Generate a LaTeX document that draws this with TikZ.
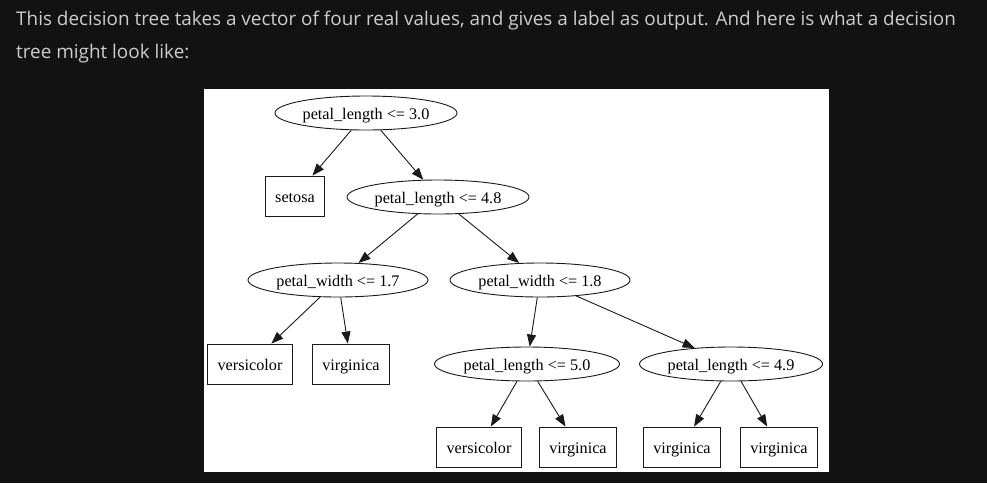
\documentclass[tikz,border=0pt]{standalone}
\usepackage{fontspec}
\setmainfont{Liberation Serif}
\newfontfamily\uifont{Open Sans}
\usepackage{tikz}
\usetikzlibrary{
	arrows.meta,
	shapes.geometric
}
\definecolor{PageBg}{HTML}{121212}
\definecolor{PageText}{HTML}{CCCCCC}
\definecolor{EdgeGray}{HTML}{1A1A1A}

\begin{document}
\begin{tikzpicture}[x=1pt, y=-1pt,
		test/.style={ellipse, draw=EdgeGray, line width=0.9pt, minimum width=182pt, minimum height=34pt, inner sep=0pt, text height=15pt, text depth=3pt, font=\fontsize{16.2}{19}\selectfont},
		leaf/.style={rectangle, draw=EdgeGray, line width=0.9pt, minimum height=40pt, inner xsep=10pt, inner ysep=0pt, text height=15pt, text depth=3pt, font=\fontsize{16.2}{19}\selectfont},
		edge/.style={-{Triangle[length=12pt, width=9pt]}, draw=EdgeGray, line width=0.9pt}]
		\fill[PageBg] (0,0) rectangle (987,483);
		\useasboundingbox (0,0) rectangle (987,483);
		\fill[white] (204,89) rectangle (829,472);
		\node[anchor=base west, text=PageText, font=\uifont\fontsize{18.9}{22}\selectfont, inner sep=0pt] (line1) at (16,25) {This decision tree takes a vector of four real values, and gives a label as output. And here is what a decision};
		\node[anchor=base west, text=PageText, font=\uifont\fontsize{18.9}{22}\selectfont, inner sep=0pt] (line2) at (16,58) {tree might look like:};
		\node[test] (PL30) at (366,113) {petal\_length <= 3.0};
		\node[leaf] (S) at (295,196) {setosa};
		\node[test] (PL48) at (438,197) {petal\_length <= 4.8};
		\node[test, minimum width=180pt] (PW17) at (338,280) {petal\_width <= 1.7};
		\node[test, minimum width=180pt] (PW18) at (540,280) {petal\_width <= 1.8};
		\node[leaf] (V1) at (250,364) {versicolor};
		\node[leaf] (G1) at (351,364) {virginica};
		\node[test, minimum width=185pt] (PL50) at (527,364) {petal\_length <= 5.0};
		\node[test, minimum width=183pt] (PL49) at (731,364) {petal\_length <= 4.9};
		\node[leaf] (V2) at (479,447) {versicolor};
		\node[leaf] (G2) at (578,447) {virginica};
		\node[leaf] (G3) at (682,447) {virginica};
		\node[leaf] (G4) at (779,447) {virginica};
		\draw[edge] (PL30)--(S);
		\draw[edge] (PL30)--(PL48);
		\draw[edge] (PL48)--(PW17);
		\draw[edge] (PL48)--(PW18);
		\draw[edge] (PW17)--(V1);
		\draw[edge] (PW17)--(G1);
		\draw[edge] (PW18)--(PL50);
		\draw[edge] (PW18)--(PL49);
		\draw[edge] (PL50)--(V2);
		\draw[edge] (PL50)--(G2);
		\draw[edge] (PL49)--(G3);
		\draw[edge] (PL49)--(G4);
	\end{tikzpicture}
\end{document}
